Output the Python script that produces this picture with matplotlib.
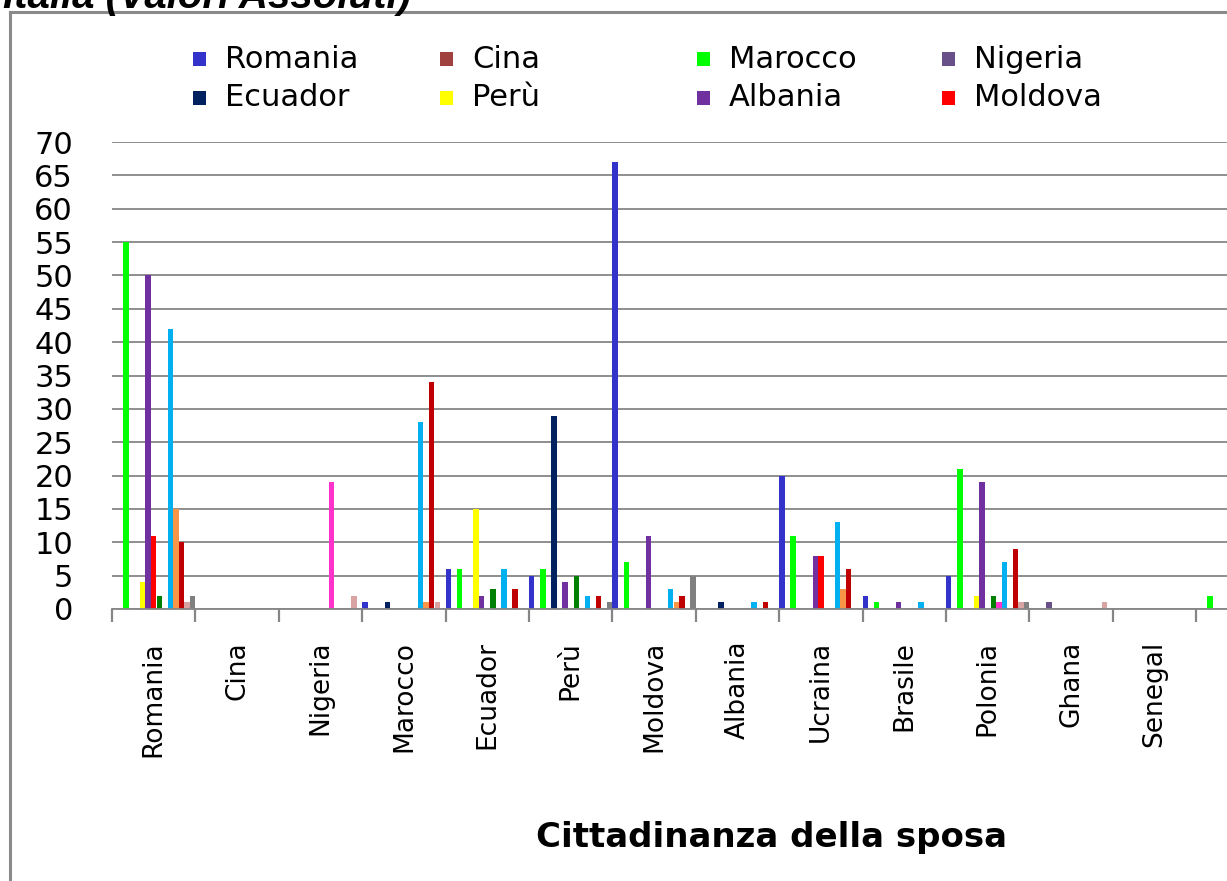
import numpy as np
import matplotlib
matplotlib.use("Agg")
import matplotlib.pyplot as plt
from matplotlib.patches import Rectangle
from matplotlib.lines import Line2D

# categorie (cittadinanza della sposa); l'ultima e' tagliata fuori dal grafico
categorie = ['Romania', 'Cina', 'Nigeria', 'Marocco', 'Ecuador', 'Perù', 'Moldova',
             'Albania', 'Ucraina', 'Brasile', 'Polonia', 'Ghana', 'Senegal', 'Altro']

# serie (cittadinanza dello sposo) - solo le prime 8 sono in legenda
romania = [0, 0, 0, 1, 6, 5, 67, 0, 20, 2, 5, 0, 0, 0]
cina = [0, 0, 0, 0, 0, 0, 0, 0, 0, 0, 0, 0, 0, 0]
marocco = [55, 0, 0, 0, 6, 6, 7, 0, 11, 1, 21, 0, 0, 2]
nigeria = [0, 0, 0, 0, 0, 0, 0, 0, 0, 0, 0, 1, 0, 0]
ecuador = [0, 0, 0, 1, 0, 29, 0, 1, 0, 0, 0, 0, 0, 0]
peru = [4, 0, 0, 0, 15, 0, 0, 0, 0, 0, 2, 0, 0, 0]
albania = [50, 0, 0, 0, 2, 4, 11, 0, 8, 1, 19, 0, 0, 0]
moldova = [11, 0, 0, 0, 0, 0, 0, 0, 8, 0, 0, 0, 0, 0]
serie9 = [2, 0, 0, 0, 3, 5, 0, 0, 0, 0, 2, 0, 0, 0]
serie10 = [0, 0, 19, 0, 0, 0, 0, 0, 0, 0, 1, 0, 0, 0]
serie11 = [42, 0, 0, 28, 6, 2, 3, 1, 13, 1, 7, 0, 0, 0]
serie12 = [15, 0, 0, 1, 0, 0, 1, 0, 3, 0, 0, 0, 0, 0]
serie13 = [10, 0, 0, 34, 3, 2, 2, 1, 6, 0, 9, 0, 0, 0]
serie14 = [1, 0, 2, 1, 0, 0, 0, 0, 0, 0, 1, 1, 0, 0]
serie15 = [2, 0, 0, 0, 0, 1, 5, 0, 0, 0, 1, 0, 0, 0]

nomi = ['Romania', 'Cina', 'Marocco', 'Nigeria', 'Ecuador', 'Perù', 'Albania', 'Moldova',
        'Serie 9', 'Serie 10', 'Serie 11', 'Serie 12', 'Serie 13', 'Serie 14', 'Serie 15']
valori = [romania, cina, marocco, nigeria, ecuador, peru, albania, moldova,
          serie9, serie10, serie11, serie12, serie13, serie14, serie15]
colori = ['#3333CC', '#A0403F', '#00FF00', '#6A5088', '#002060', '#FFFF00', '#7030A0', '#FF0000',
          '#008000', '#FF33CC', '#00B0F0', '#F79646', '#C00000', '#D9A3A3', '#808080']

W, H = 1227, 881
fig = plt.figure(figsize=(W / 100, H / 100), dpi=100)

x0, y0, ytop = 112, 609, 142
cat_px = 83.4
ax = fig.add_axes([x0 / W, (H - y0) / H, (W - x0) / W, (y0 - ytop) / H])

n = len(valori)
slot = 1.0 / n
x = np.arange(len(categorie))
for i, (vals, col, nome) in enumerate(zip(valori, colori, nomi)):
    ax.bar(x - 0.5 + (i + 0.5) * slot, vals, width=slot * 0.97, color=col, label=nome, zorder=2)

ax.set_yticks(range(0, 71, 5))
ax.yaxis.grid(True, color='#868686', linewidth=1.3)
ax.set_axisbelow(True)

for s in ['top', 'right', 'left']:
    ax.spines[s].set_visible(False)
ax.spines['bottom'].set_color('#868686')
ax.spines['bottom'].set_linewidth(1.3)

ax.set_xticks(x)
ax.set_xticklabels(categorie, rotation=90, fontsize=19, family='DejaVu Sans', va='top')
ax.set_xticks(np.arange(len(categorie) + 1) - 0.5, minor=True)
ax.tick_params(axis='x', which='major', length=0, pad=23)
ax.tick_params(axis='x', which='minor', length=9, width=1.6, color='#868686', direction='out')
ax.tick_params(axis='y', length=0, pad=28, labelsize=22)

# limiti dopo i tick, altrimenti set_xticks li allarga
ax.set_xlim(-0.5, -0.5 + (W - x0) / cat_px)
ax.set_ylim(0, 70)

# titolo asse x
fig.text(772 / W, 1 - 838 / H, 'Cittadinanza della sposa', ha='center', va='center',
         fontsize=24.5, fontweight='bold', family='DejaVu Sans')

# titolo tagliato in alto
fig.text(3 / W, 1 - 8 / H, 'Italia (Valori Assoluti)', ha='left', va='baseline',
         fontsize=29, fontweight='bold', fontstyle='italic', family='Liberation Sans')

# cornice del grafico
fig.add_artist(Line2D([10 / W, 10 / W], [0, 1 - 12 / H], transform=fig.transFigure,
                      color='#8A8A8A', linewidth=2.2))
fig.add_artist(Line2D([10 / W, 1], [1 - 12 / H, 1 - 12 / H], transform=fig.transFigure,
                      color='#8A8A8A', linewidth=2.2))

# legenda (2 righe x 4 colonne)
col_x = [193, 440, 697, 942]
row_y = [59, 98]
sq = 13
for k in range(8):
    r, c = k // 4, k % 4
    idx = k
    fig.add_artist(Rectangle((col_x[c] / W, 1 - (row_y[r] + sq / 2) / H), sq / W, sq / H,
                             transform=fig.transFigure, facecolor=colori[idx], edgecolor='none'))
    fig.text((col_x[c] + 32) / W, 1 - row_y[r] / H, nomi[idx], ha='left', va='center',
             fontsize=22, family='DejaVu Sans')

fig.savefig('out.png', dpi=100)
